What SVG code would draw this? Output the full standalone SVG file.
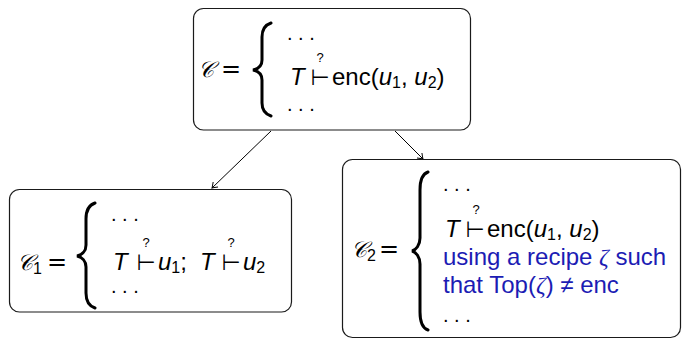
<svg xmlns="http://www.w3.org/2000/svg" width="682" height="339" viewBox="0 0 682 339">
<style>
.box{fill:#fff;stroke:#1a1a1a;stroke-width:1.2}
.br{fill:none;stroke:#000;stroke-width:3;stroke-linecap:round}
.t{font-family:"Liberation Sans",Arial,sans-serif;font-size:24px;fill:#000}
.i{font-style:italic}
.sub{font-size:16px}
.cal{font-family:"DejaVu Serif","Liberation Serif",serif;font-style:italic;font-size:22px}
.eq{font-family:"DejaVu Sans",sans-serif;font-size:24px}
.dots{font-family:"Liberation Sans",Arial,sans-serif;font-size:20px}
.q{font-family:"Liberation Sans",Arial,sans-serif;font-size:13px}
.ts{font-family:"DejaVu Sans",sans-serif;font-size:22px}
.z{font-family:"Liberation Serif",serif;font-style:italic}
.blue{fill:#1c1cb4}
.conn{fill:none;stroke:#000;stroke-width:1}
</style>
<defs>
<marker id="ah" viewBox="-6 -5 8 10" refX="0" refY="0" markerWidth="8" markerHeight="10" markerUnits="userSpaceOnUse" orient="auto">
<path d="M-5,-3.5 Q-1.5,-0.8 0,0 Q-1.5,0.8 -5,3.5" fill="none" stroke="#000" stroke-width="1"/>
</marker>
</defs>
<g id="connectors">
<line class="conn" x1="271" y1="131" x2="212" y2="188" marker-end="url(#ah)"/>
<line class="conn" x1="395" y1="131" x2="423" y2="159" marker-end="url(#ah)"/>
</g>
<g id="node-C">
<rect class="box" x="193.5" y="8.5" width="277" height="121.5" rx="10"/>
<text class="t cal" x="198" y="77">𝒞</text>
<text class="eq" x="231" y="77" text-anchor="middle">=</text>
<path class="br" d="M271,23 C265,25 262,29 262,37 L262,60 C262,66 258,69 253,70 C258,71 262,74 262,80 L262,103 C262,110 265,114 271,116"/>
<text class="dots" x="287" y="40">. . .</text>
<text class="t i" x="290" y="85">T</text>
<text class="q" x="320" y="62" text-anchor="middle">?</text>
<text class="ts" x="320" y="85" text-anchor="middle">⊢</text>
<text class="t" x="332" y="85">enc(<tspan class="i">u</tspan><tspan class="sub" dy="3">1</tspan><tspan dy="-3">, </tspan><tspan class="i">u</tspan><tspan class="sub" dy="3">2</tspan><tspan dy="-3">)</tspan></text>
<text class="dots" x="287" y="111">. . .</text>
</g>
<g id="node-C1">
<rect class="box" x="9.5" y="189.5" width="282" height="122.5" rx="10"/>
<text class="t cal" x="17" y="270">𝒞</text>
<text class="t sub" x="33" y="274">1</text>
<text class="eq" x="57" y="270" text-anchor="middle">=</text>
<path class="br" d="M95,203 C89,205 86,210 86,219 L86,245 C86,251 82,255 77,256 C82,257 86,261 86,267 L86,293 C86,302 89,306 95,308"/>
<text class="dots" x="111" y="221">. . .</text>
<text class="t i" x="113" y="270">T</text>
<text class="q" x="146" y="247" text-anchor="middle">?</text>
<text class="ts" x="146" y="270" text-anchor="middle">⊢</text>
<text class="t" x="158" y="270"><tspan class="i">u</tspan><tspan class="sub" dy="3">1</tspan><tspan dy="-3">;</tspan></text>
<text class="t i" x="200" y="270">T</text>
<text class="q" x="231" y="247" text-anchor="middle">?</text>
<text class="ts" x="231" y="270" text-anchor="middle">⊢</text>
<text class="t" x="243" y="270"><tspan class="i">u</tspan><tspan class="sub" dy="3">2</tspan></text>
<text class="dots" x="111" y="293">. . .</text>
</g>
<g id="node-C2">
<rect class="box" x="342.5" y="159.5" width="338" height="178" rx="10"/>
<text class="t cal" x="351" y="257">𝒞</text>
<text class="t sub" x="367" y="261">2</text>
<text class="eq" x="389" y="257" text-anchor="middle">=</text>
<path class="br" d="M428,172 C422,174 420,180 420,190 L420,238 C420,245 416,250 412,251 C416,252 420,257 420,264 L420,312 C420,322 422,328 428,330"/>
<text class="dots" x="443" y="191">. . .</text>
<text class="t i" x="445" y="237">T</text>
<text class="q" x="476" y="214" text-anchor="middle">?</text>
<text class="ts" x="475" y="237" text-anchor="middle">⊢</text>
<text class="t" x="487" y="237">enc(<tspan class="i">u</tspan><tspan class="sub" dy="3">1</tspan><tspan dy="-3">, </tspan><tspan class="i">u</tspan><tspan class="sub" dy="3">2</tspan><tspan dy="-3">)</tspan></text>
<text class="t blue" x="443" y="265" font-size="23">using a recipe <tspan class="z">ζ</tspan> such</text>
<text class="t blue" x="443" y="293" font-size="23">that Top(<tspan class="z">ζ</tspan>) ≠ enc</text>
<text class="dots" x="443" y="322">. . .</text>
</g>
</svg>
